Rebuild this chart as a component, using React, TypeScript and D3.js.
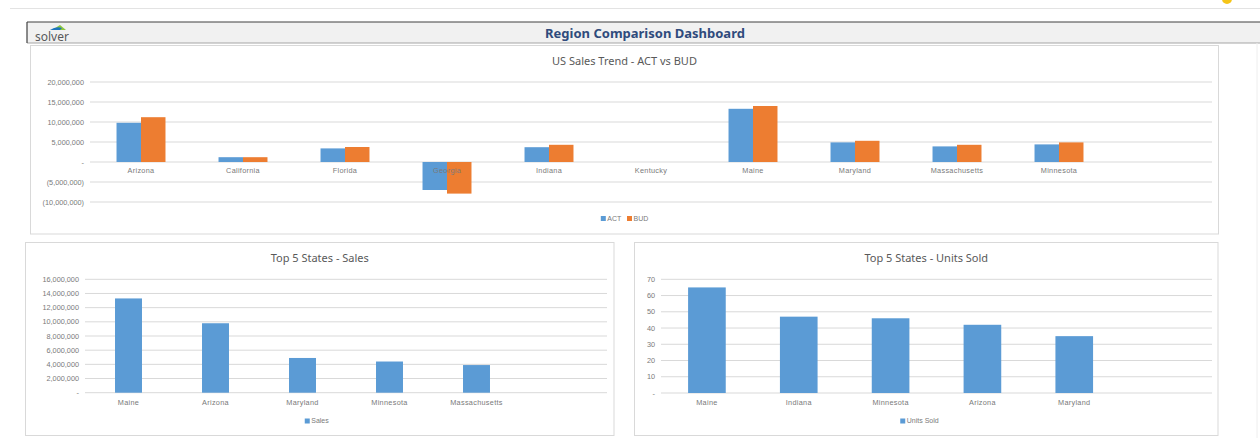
import React from 'react';
import * as d3 from 'd3';

// US Sales Trend - ACT vs BUD
const states = ['Arizona', 'California', 'Florida', 'Georgia', 'Indiana', 'Kentucky', 'Maine', 'Maryland', 'Massachusetts', 'Minnesota'];
const actValues = [9800000, 1200000, 3400000, -7000000, 3700000, 0, 13300000, 4900000, 3900000, 4400000];
const budValues = [11200000, 1200000, 3750000, -7900000, 4300000, 0, 14000000, 5300000, 4300000, 4900000];
const trendTicks = [-10000000, -5000000, 0, 5000000, 10000000, 15000000, 20000000];

// Top 5 States - Sales
const salesStates = ['Maine', 'Arizona', 'Maryland', 'Minnesota', 'Massachusetts'];
const salesValues = [13300000, 9800000, 4900000, 4400000, 3900000];
const salesTicks = [0, 2000000, 4000000, 6000000, 8000000, 10000000, 12000000, 14000000, 16000000];

// Top 5 States - Units Sold
const unitStates = ['Maine', 'Indiana', 'Minnesota', 'Arizona', 'Maryland'];
const unitValues = [65, 47, 46, 42, 35];
const unitTicks = [0, 10, 20, 30, 40, 50, 60, 70];

const BLUE = '#5b9bd5';
const ORANGE = '#ed7d31';
const GRID = '#d9d9d9';
const TEXT = '#7a7a7a';
const TITLE = '#595959';
const titleFont = '"Noto Sans", sans-serif';
const smallFont = '"Liberation Sans", Arial, sans-serif';

const fmt = (v: number) => {
  if (v === 0) return '-';
  const s = d3.format(',')(Math.abs(v));
  return v < 0 ? `(${s})` : s;
};

interface PanelProps {
  box: { x: number; y: number; w: number; h: number };
  title: string;
  cats: string[];
  series: { name: string; values: number[]; color: string }[];
  ticks: number[];
  plot: { left: number; right: number; top: number; bottom: number; slots: number; pad: number };
  labelY: number;
  legendY: number;
}

const BarPanel: React.FC<PanelProps> = ({ box, title, cats, series, ticks, plot, labelY, legendY }) => {
  const lo = d3.min(ticks) as number;
  const hi = d3.max(ticks) as number;
  const y = d3.scaleLinear().domain([lo, hi]).range([plot.bottom, plot.top]);
  // the category axis leaves room for one empty slot on the right, as in the sheet
  const bandEnd = plot.left + ((plot.right - plot.left) * cats.length) / plot.slots;
  const x = d3
    .scaleBand<string>()
    .domain(cats)
    .range([plot.left, bandEnd])
    .paddingInner(plot.pad)
    .paddingOuter(plot.pad / 2);
  const sub = d3
    .scaleBand<string>()
    .domain(series.map((s) => s.name))
    .range([0, x.bandwidth()]);

  // legend layout
  const legendItems = series.map((s) => ({ ...s, w: 8 + s.name.length * 4.4 }));
  const legendW = d3.sum(legendItems, (d) => d.w) + (legendItems.length - 1) * 5;
  let lx = box.x + box.w / 2 - legendW / 2;

  return (
    <g>
      <rect x={box.x} y={box.y} width={box.w} height={box.h} fill="#fff" stroke={GRID} strokeWidth={1} />
      <text x={box.x + box.w / 2} y={box.y + 19} textAnchor="middle" fontFamily={titleFont} fontSize={11} fill={TITLE}>
        {title}
      </text>
      {ticks.map((t) => (
        <g key={t}>
          <line x1={plot.left} x2={plot.right} y1={y(t)} y2={y(t)} stroke={GRID} strokeWidth={1} />
          <text x={plot.left - 6} y={y(t)} dy="0.35em" textAnchor="end" fontFamily={smallFont} fontSize={7.3} fill={TEXT}>
            {fmt(t)}
          </text>
        </g>
      ))}
      {cats.map((c, i) => (
        <g key={c}>
          {series.map((s) => {
            const v = s.values[i];
            return (
              <rect
                key={s.name}
                x={(x(c) as number) + (sub(s.name) as number)}
                y={Math.min(y(v), y(0))}
                width={sub.bandwidth()}
                height={Math.abs(y(v) - y(0))}
                fill={s.color}
              />
            );
          })}
          <text
            x={(x(c) as number) + x.bandwidth() / 2}
            y={labelY}
            dy="0.35em"
            textAnchor="middle"
            fontFamily={smallFont}
            fontSize={7.3}
            letterSpacing={0.3}
            fill={TEXT}
          >
            {c}
          </text>
        </g>
      ))}
      {legendItems.map((s) => {
        const cx = lx;
        lx += s.w + 5;
        return (
          <g key={s.name}>
            <rect x={cx} y={legendY - 2.5} width={5} height={5} fill={s.color} />
            <text x={cx + 6.5} y={legendY} dy="0.35em" fontFamily={smallFont} fontSize={7} fill={TEXT}>
              {s.name}
            </text>
          </g>
        );
      })}
    </g>
  );
};

const App: React.FC = () => {
  return (
    <svg width={1260} height={438} style={{ position: 'absolute', left: 0, top: 0, background: '#fff' }}>
      {/* sheet top edge */}
      <line x1={10} x2={1260} y1={8.5} y2={8.5} stroke="#e3e3e3" strokeWidth={1} />
      <circle cx={1227} cy={-1} r={5} fill="#f5c518" />

      {/* header */}
      <rect x={27} y={22} width={1240} height={21} fill="#f1f1f1" />
      <line x1={27} x2={1260} y1={22} y2={22} stroke="#404040" strokeWidth={1.2} />
      <line x1={27} x2={1260} y1={43} y2={43} stroke="#a6a6a6" strokeWidth={1.2} />
      <line x1={27} x2={27} y1={22} y2={43} stroke="#404040" strokeWidth={1.2} />
      <line x1={1257} x2={1257} y1={43} y2={438} stroke="#eeeeee" strokeWidth={1} />
      <path d="M52,30 L60,25 L66,30 Z" fill="#8cc63e" />
      <path d="M50,30 Q56,26 62,28 L60,30 Z" fill="#1c75bc" />
      <text x={35} y={41} fontFamily={titleFont} fontSize={12} fill="#58595b">
        solver
      </text>
      <text x={645} y={33} dy="0.35em" textAnchor="middle" fontFamily={titleFont} fontWeight="bold" fontSize={13} fill="#2f4b7c">
        Region Comparison Dashboard
      </text>

      <BarPanel
        box={{ x: 30.5, y: 45.5, w: 1188, h: 188.5 }}
        title="US Sales Trend - ACT vs BUD"
        cats={states}
        series={[
          { name: 'ACT', values: actValues, color: BLUE },
          { name: 'BUD', values: budValues, color: ORANGE },
        ]}
        ticks={trendTicks}
        plot={{ left: 90, right: 1212, top: 82, bottom: 202, slots: 11, pad: 0.52 }}
        labelY={170.5}
        legendY={218.5}
      />
      <BarPanel
        box={{ x: 25.5, y: 242.5, w: 588.5, h: 193 }}
        title="Top 5 States - Sales"
        cats={salesStates}
        series={[{ name: 'Sales', values: salesValues, color: BLUE }]}
        ticks={salesTicks}
        plot={{ left: 85, right: 607, top: 279.3, bottom: 392.7, slots: 6, pad: 0.69 }}
        labelY={402}
        legendY={421}
      />
      <BarPanel
        box={{ x: 634.5, y: 242.5, w: 583.5, h: 193 }}
        title="Top 5 States - Units Sold"
        cats={unitStates}
        series={[{ name: 'Units Sold', values: unitValues, color: BLUE }]}
        ticks={unitTicks}
        plot={{ left: 661, right: 1212, top: 279.3, bottom: 393, slots: 6, pad: 0.59 }}
        labelY={402}
        legendY={421}
      />
    </svg>
  );
};

export default App;
